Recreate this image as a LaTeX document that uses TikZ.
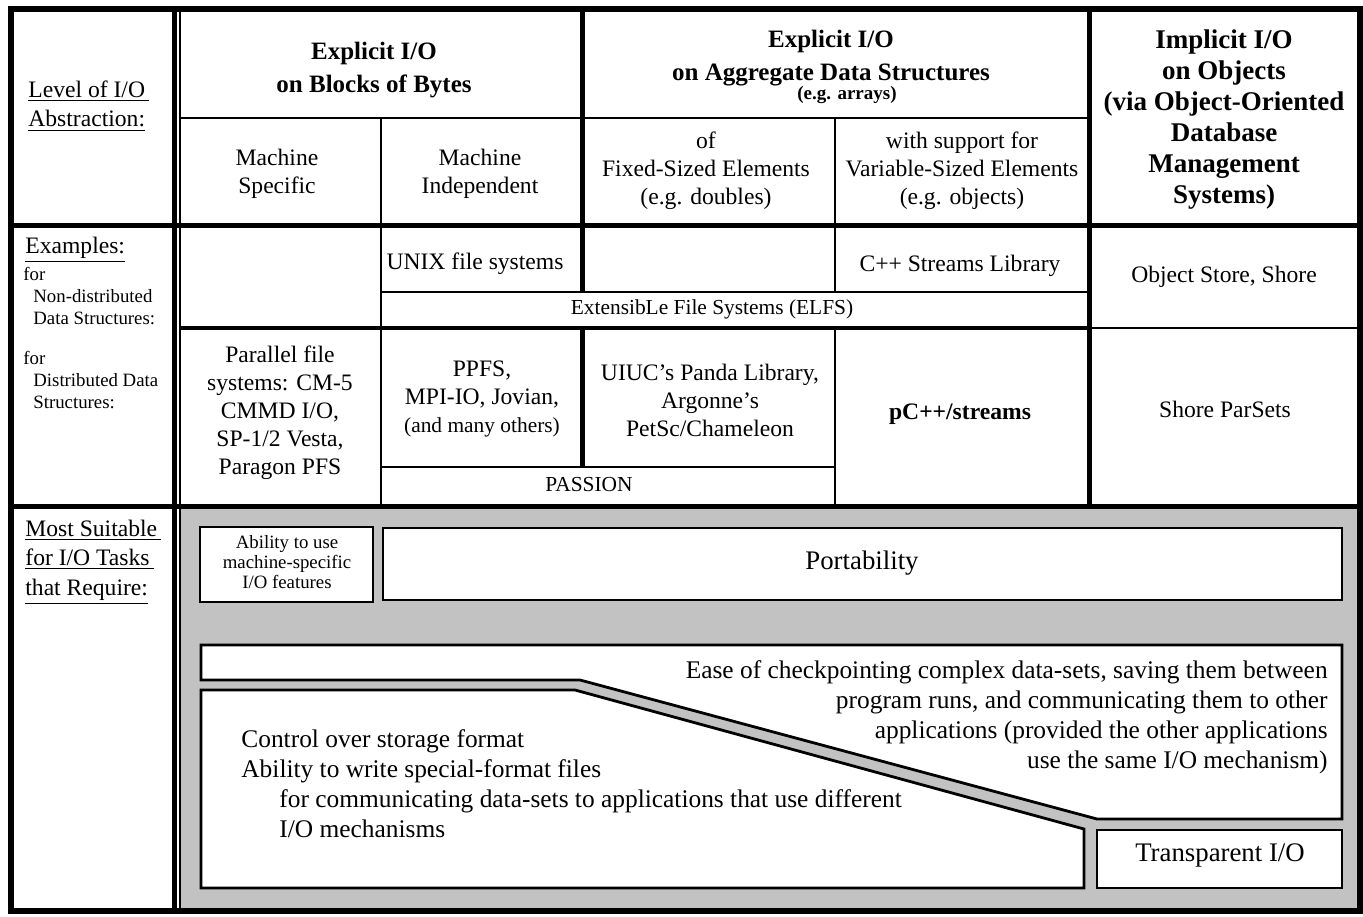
\documentclass[tikz,border=0pt]{standalone}
\usepackage{fontspec}
\setmainfont{Liberation Serif}
\usetikzlibrary{calc}

\begin{document}
\begin{tikzpicture}[
  x=0.5pt, y=-0.5pt,
  rulethick/.style = {line width=2.5pt},
  rulemed/.style = {line width=1.7pt},
  rulethin/.style = {line width=0.8pt},
  cell/.style = {inner sep=0pt, align=center, font=\fontsize{11.8}{14}\selectfont},
  cellsm/.style = {inner sep=0pt, align=center, font=\fontsize{10.7}{13}\selectfont},
  hdr/.style = {inner sep=0pt, align=center, font=\fontsize{12.5}{16.5}\selectfont\bfseries},
  side/.style = {inner sep=0pt, align=left, anchor=west, font=\fontsize{11.8}{14.8}\selectfont},
  tiny/.style = {inner sep=0pt, align=left, anchor=west, font=\fontsize{9.4}{11}\selectfont},
  tinyc/.style = {inner sep=0pt, align=center, font=\fontsize{9.4}{10}\selectfont},
  task/.style = {draw, line width=1.4pt, fill=white, line join=miter},
  tasktext/.style = {inner sep=0pt, font=\fontsize{12.7}{15}\selectfont},
  ]
  \useasboundingbox (0,0) rectangle (1363,916);

  \fill[black!24] (181,508) rectangle (1358,909);

  \draw[line width=3pt] (11,9) rectangle (1360,911);
  \draw[rulethick] (174.5,9) -- (174.5,911);
  \draw[rulethin] (180,9) -- (180,911);
  \draw[rulethick] (11,225) -- (1360,225);
  \draw[rulethick] (11,506) -- (1360,506);
  \draw[rulethick] (582,9) -- (582,292);
  \draw[rulethick] (582,328) -- (582,467);
  \draw[rulethick] (1089,9) -- (1089,506);
  \draw[rulethin] (180,118) -- (1089,118);
  \draw[rulethin] (381,118) -- (381,506);
  \draw[rulethin] (835,118) -- (835,292);
  \draw[rulethin] (835,328) -- (835,506);
  \draw[rulethin] (381,292) -- (1089,292);
  \draw[rulemed] (180,328) -- (1089,328);
  \draw[rulethin] (1089,328) -- (1358,328);
  \draw[rulethin] (381,467) -- (835,467);

  \node[side] (lvl) at (28,106) {\underline{Level of I/O\,}\\\underline{Abstraction:}};
  \node[hdr] (blocks) at (374,70) {Explicit I/O\\on Blocks of Bytes};
  \node[hdr] (aggr) at (831,67) {Explicit I/O\\on Aggregate Data Structures\\[-7pt]{\fontsize{9.5}{9.5}\selectfont\hspace*{16pt}(e.g. arrays)}};
  \node[hdr, font=\fontsize{13.5}{15.5}\selectfont\bfseries] (implicit) at (1224,120)
    {Implicit I/O\\on Objects\\(via Object-Oriented\\Database\\Management\\Systems)};
  \node[cell] (mspec) at (277,174) {Machine\\Specific};
  \node[cell] (mindep) at (480,174) {Machine\\Independent};
  \node[cell] (fixed) at (706,171) {of\\Fixed-Sized Elements\\(e.g. doubles)};
  \node[cell] (varsz) at (962,171) {with support for\\Variable-Sized Elements\\(e.g. objects)};

  \node[side] (examples) at (25,250) {\underline{Examples:}};
  \node[tiny] (nondist) at (23,296) {for\\\hspace*{5pt}Non-distributed\\\hspace*{5pt}Data Structures:};
  \node[tiny] (dist) at (23,380) {for\\\hspace*{5pt}Distributed Data\\\hspace*{5pt}Structures:};
  \node[cell] (unix) at (475,264) {UNIX file systems};
  \node[cell] (cstreams) at (960,266) {C++ Streams Library};
  \node[cellsm] (elfs) at (712,309) {ExtensibLe File Systems (ELFS)};
  \node[cell] (ostore) at (1224,277) {Object Store, Shore};
  \node[cell] (pfs) at (280,413) {Parallel file\\systems: CM-5\\CMMD I/O,\\SP-1/2 Vesta,\\Paragon PFS};
  \node[cell] (ppfs) at (482,399) {PPFS,\\MPI-IO, Jovian,\\{\fontsize{10.7}{14}\selectfont(and many others)}};
  \node[cell] (panda) at (710,400) {UIUC's Panda Library,\\Argonne's\\PetSc/Chameleon};
  \node[cell, font=\fontsize{11.8}{14}\selectfont\bfseries] (pcpp) at (960,414) {pC++/streams};
  \node[cell] (parsets) at (1225,409) {Shore ParSets};
  \node[cellsm] (passion) at (589,485) {PASSION};

  \node[side] (suitable) at (25,562) {\underline{Most Suitable\,}\\\underline{for I/O Tasks\,}\\\underline{that Require:}};
  \draw[task] (200,527) rectangle (373,602);
  \node[tinyc] (specific) at (287,562) {Ability to use\\machine-specific\\I/O features};
  \draw[task] (383,528) rectangle (1342,600);
  \node[tasktext, font=\fontsize{13.4}{16}\selectfont] (portab) at (862,563) {Portability};

  \draw[task] (201,645) -- (1342,645) -- (1342,819) -- (1097,819) -- (580,680) -- (201,680) -- cycle;
  \draw[task] (201,690) -- (575,690) -- (1084,829) -- (1084,888) -- (201,888) -- cycle;
  \draw[task] (1097,830) rectangle (1342,888);

  \node[tasktext, align=right, anchor=east] (ease) at (1328,717)
    {Ease of checkpointing complex data-sets, saving them between\\program runs, and communicating them to other\\applications (provided the other applications\\use the same I/O mechanism)};
  \node[tasktext, align=left, anchor=west] (control) at (241,784)
    {Control over storage format\\Ability to write special-format files\\\hspace*{19pt}for communicating data-sets to applications that use different\\\hspace*{19pt}I/O mechanisms};
  \node[tasktext, font=\fontsize{13.4}{16}\selectfont] (transp) at (1220,855) {Transparent I/O};
\end{tikzpicture}
\end{document}
